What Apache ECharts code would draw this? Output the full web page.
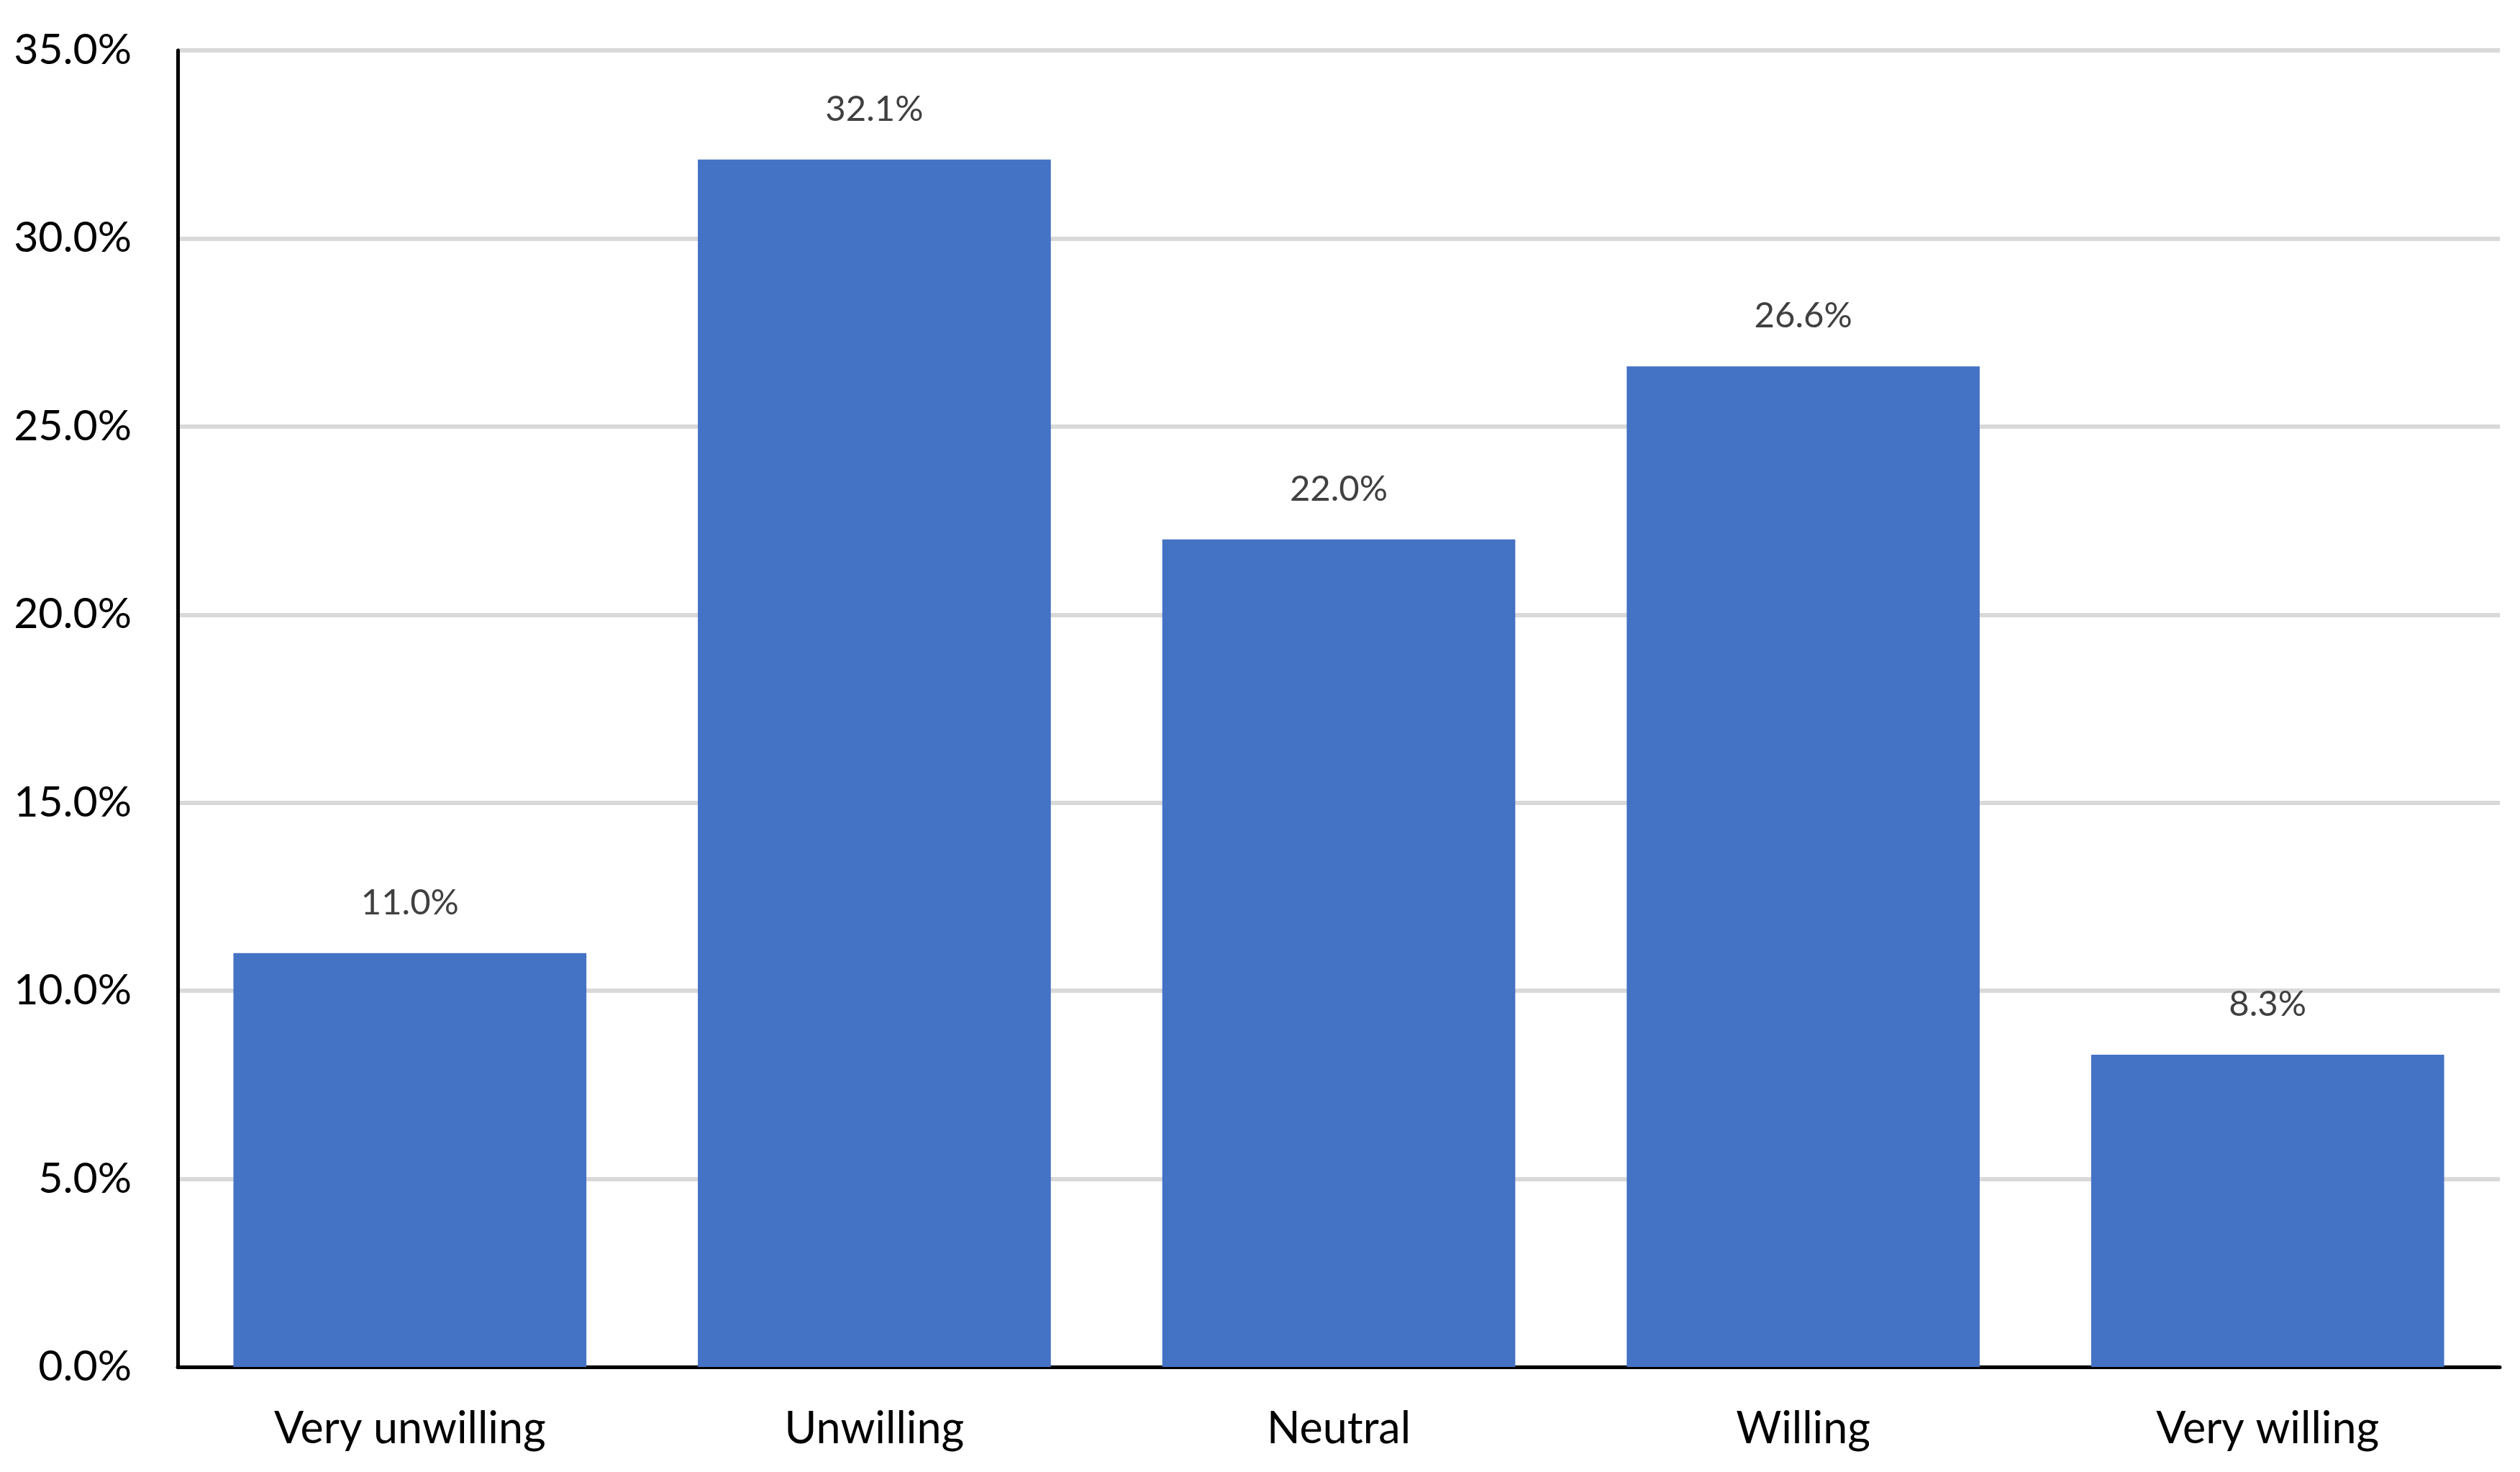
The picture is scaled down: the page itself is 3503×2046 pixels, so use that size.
<!DOCTYPE html>
<html>
<head>
    <meta charset="utf-8">
    <title>Willingness</title>
    <script src="https://cdn.jsdelivr.net/npm/echarts@6/dist/echarts.min.js"></script>
    <style>
        html, body { margin: 0; padding: 0; background: #fff; }
        #main { width: 3503px; height: 2046px; }
    </style>
</head>
<body>
<div id="main"></div>
<script type="text/javascript">
    // categories and percentages
    var categories = ['Very unwilling', 'Unwilling', 'Neutral', 'Willing', 'Very willing'];
    var shares = [11.0, 32.1, 22.0, 26.6, 8.3];
    var yTicks = [0, 5, 10, 15, 20, 25, 30, 35];

    var myChart = echarts.init(document.getElementById('main'));

    var option = {
        backgroundColor: '#ffffff',
        animation: false,
        grid: {
            left: 247,
            right: 28,
            top: 70,
            bottom: 146,
            containLabel: false
        },
        xAxis: {
            type: 'category',
            data: categories,
            axisLine: { show: true, lineStyle: { color: '#000', width: 5 } },
            axisTick: { show: false },
            axisLabel: {
                color: '#000',
                fontFamily: 'Lato',
                fontSize: 61,
                margin: 56
            }
        },
        yAxis: {
            type: 'value',
            min: yTicks[0],
            max: yTicks[yTicks.length - 1],
            interval: 5,
            axisLine: { show: true, lineStyle: { color: '#000', width: 5 } },
            axisTick: { show: false },
            splitLine: { show: true, lineStyle: { color: '#d9d9d9', width: 6 } },
            axisLabel: {
                color: '#000',
                fontFamily: 'Lato',
                fontSize: 59,
                margin: 64,
                formatter: function (v) { return v.toFixed(1) + '%'; }
            }
        },
        series: [
            {
                type: 'bar',
                data: shares,
                barCategoryGap: '24%',
                itemStyle: { color: '#4472C4' },
                label: {
                    show: true,
                    position: 'top',
                    distance: 45,
                    color: '#404040',
                    fontFamily: 'Lato',
                    fontSize: 49,
                    formatter: function (p) { return p.value.toFixed(1) + '%'; }
                }
            }
        ]
    };

    myChart.setOption(option);
</script>
</body>
</html>
